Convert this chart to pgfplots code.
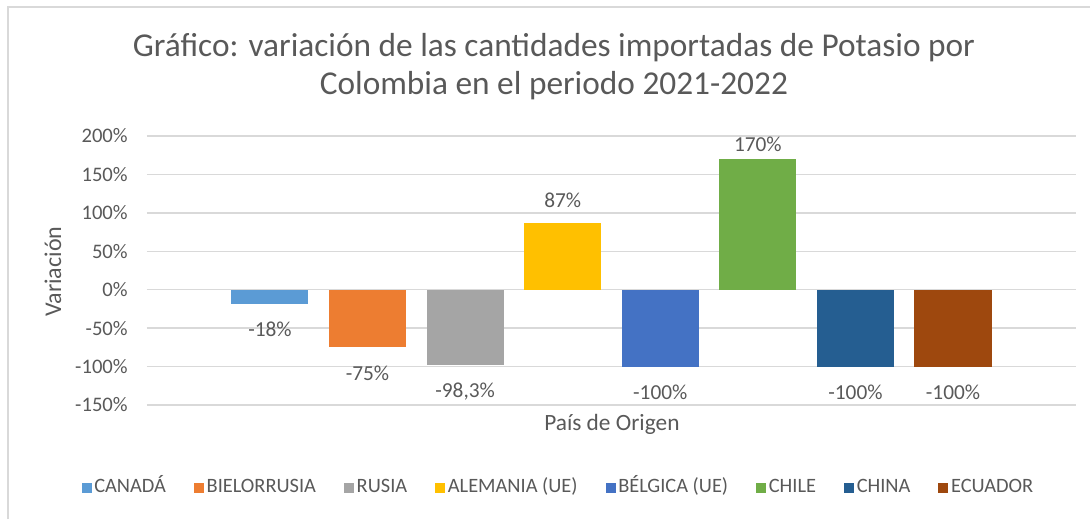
\documentclass[border=0pt]{standalone}
\usepackage{fontspec}
\setmainfont{Carlito}
\usepackage{pgfplots}
\pgfplotsset{compat=1.18}
\definecolor{txt}{HTML}{595959}
\definecolor{gridc}{HTML}{D9D9D9}
\definecolor{c1}{HTML}{5B9BD5}
\definecolor{c2}{HTML}{ED7D31}
\definecolor{c3}{HTML}{A5A5A5}
\definecolor{c4}{HTML}{FFC000}
\definecolor{c5}{HTML}{4472C4}
\definecolor{c6}{HTML}{70AD47}
\definecolor{c7}{HTML}{255E91}
\definecolor{c8}{HTML}{9E480E}
\pgfplotsset{
  sqlegend/.style={legend image code/.code={\fill[##1] (0pt,-3.75pt) rectangle (7.5pt,3.75pt);}},
  mybar/.style={ybar, bar width=0.79, bar shift=0pt, draw=none, fill=#1, sqlegend},
  neg/.style={every node near coord/.append style={yshift=-19.5pt}},
  pos/.style={every node near coord/.append style={yshift=#1}},
}
\begin{document}
\begin{tikzpicture}
\draw[gridc, line width=1.5pt] (-104.25pt,-85.5pt) -- (-104.25pt,298.5pt) -- (707.25pt,298.5pt);
\begin{axis}[
  at={(0pt,0pt)}, anchor=south west,
  scale only axis, width=696.75pt, height=201.75pt,
  xmin=-1.26, xmax=8.26, ymin=-150, ymax=200,
  axis line style={draw=none},
  xtick=\empty,
  ytick={-150,-100,-50,0,50,100,150,200},
  yticklabels={-150\%,-100\%,-50\%,0\%,50\%,100\%,150\%,200\%},
  major tick length=0pt,
  ymajorgrids,
  major grid style={gridc, line width=1pt},
  yticklabel style={font=\fontsize{15.5}{18}\selectfont, text=txt, anchor=east, inner sep=0pt, xshift=-14.25pt},
  clip=false,
  title={Gráfico: variación de las cantidades importadas de Potasio por\\Colombia en el periodo 2021-2022},
  title style={at={(axis cs:2.91,280)}, anchor=center, align=center, text=txt, font=\fontsize{25}{28.5}\selectfont},
  ylabel={Variación},
  ylabel style={at={(axis cs:-2.223,23.4)}, anchor=center, rotate=0, text=txt, font=\fontsize{18}{20}\selectfont},
  xlabel={País de Origen},
  xlabel style={at={(axis cs:3.504,-175.8)}, anchor=center, text=txt, font=\fontsize{17.5}{20}\selectfont},
  nodes near coords,
  point meta=explicit symbolic,
  nodes near coords style={font=\fontsize{16}{18}\selectfont, text=txt, anchor=center},
  legend columns=8,
  legend style={at={(axis cs:2.96,-257.8)}, anchor=center, draw=none, fill=none, inner sep=0pt,
    font=\fontsize{15.3}{18}\selectfont, text=txt,
    nodes={text height=0.9em, text depth=0.25em},
    /tikz/every even column/.append style={column sep=19pt}},
  legend cell align=left,
]
\addplot[mybar=c1, neg] coordinates {(0,-18) [-18\%]};
\addlegendentry{CANADÁ}
\addplot[mybar=c2, neg] coordinates {(1,-75) [-75\%]};
\addlegendentry{BIELORRUSIA}
\addplot[mybar=c3, neg] coordinates {(2,-98.3) [-98,3\%]};
\addlegendentry{RUSIA}
\addplot[mybar=c4, pos=17.25pt] coordinates {(3,87) [87\%]};
\addlegendentry{ALEMANIA (UE)}
\addplot[mybar=c5, neg] coordinates {(4,-100) [-100\%]};
\addlegendentry{BÉLGICA (UE)}
\addplot[mybar=c6, pos=11.25pt] coordinates {(5,170) [170\%]};
\addlegendentry{CHILE}
\addplot[mybar=c7, neg] coordinates {(6,-100) [-100\%]};
\addlegendentry{CHINA}
\addplot[mybar=c8, neg] coordinates {(7,-100) [-100\%]};
\addlegendentry{ECUADOR}
\end{axis}
\pgfresetboundingbox
\useasboundingbox (-110.25pt,-85.5pt) rectangle (707.25pt,303.75pt);
\end{tikzpicture}
\end{document}
